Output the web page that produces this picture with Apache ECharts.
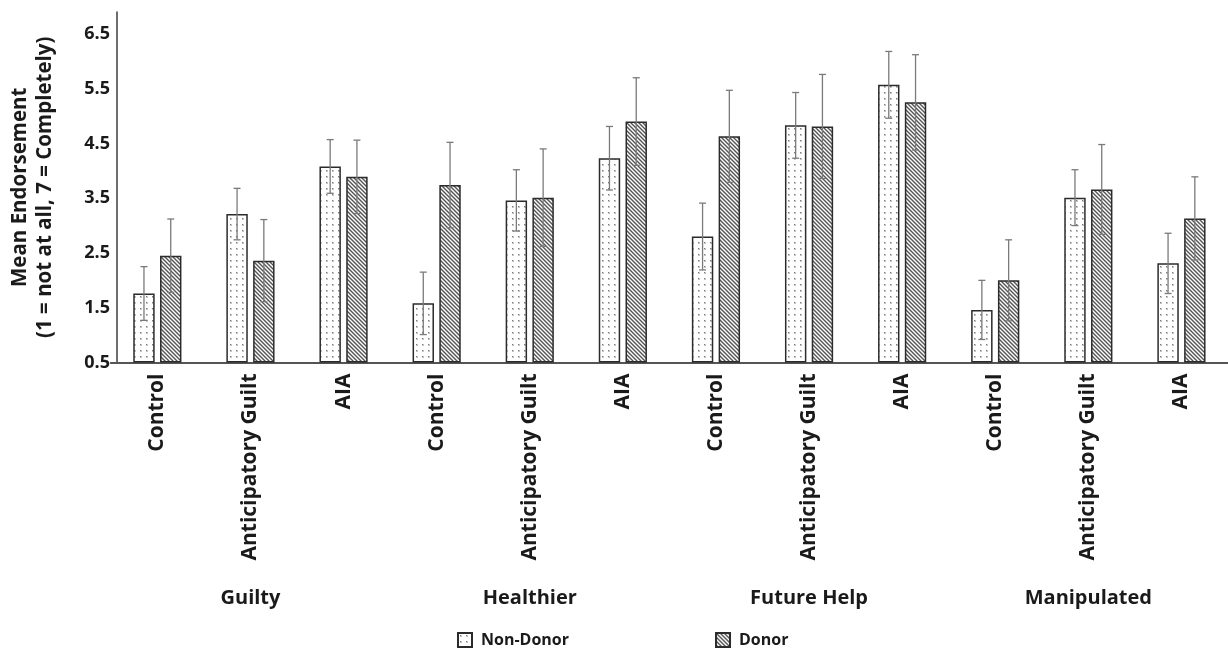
<!DOCTYPE html>
<html>
<head>
<meta charset="utf-8">
<script src="https://cdn.jsdelivr.net/npm/echarts@6/dist/echarts.min.js"></script>
<style>
  html, body { margin: 0; padding: 0; background: #fff; }
  #chart { width: 1228px; height: 648px; }
</style>
</head>
<body>
<div id="chart"></div>
<script>
// Conditions within each judgement, and the four judgements they are grouped under
const categories = ['Control', 'Anticipatory Guilt', 'AIA',
                    'Control', 'Anticipatory Guilt', 'AIA',
                    'Control', 'Anticipatory Guilt', 'AIA',
                    'Control', 'Anticipatory Guilt', 'AIA'];
const groups = ['Guilty', 'Healthier', 'Future Help', 'Manipulated'];

// Mean endorsement and error-bar half widths
const nonDonorMean = [1.76, 3.21, 4.08, 1.58, 3.46, 4.23, 2.80, 4.83, 5.57, 1.46, 3.51, 2.31];
const nonDonorErr  = [0.49, 0.47, 0.49, 0.57, 0.56, 0.58, 0.61, 0.60, 0.61, 0.54, 0.51, 0.55];
const donorMean    = [2.45, 2.36, 3.89, 3.74, 3.51, 4.90, 4.63, 4.81, 5.25, 2.00, 3.66, 3.13];
const donorErr     = [0.67, 0.75, 0.67, 0.78, 0.89, 0.80, 0.84, 0.95, 0.87, 0.74, 0.82, 0.76];

// Y axis tick labels shown at the half points
const yTickLabels = ['0.5', '1.5', '2.5', '3.5', '4.5', '5.5', '6.5'];

const FONT = 'Open Sans';
const TEXT = '#1a1a1a';
const BAR_WIDTH = 0.23;   // fraction of a category band
const BAR_GAP = 0.25;     // fraction of a bar width

// Fill patterns: fine dots for non-donors, downward diagonal hatch for donors
function dotPattern() {
  const c = document.createElement('canvas');
  c.width = 6; c.height = 6;
  const g = c.getContext('2d');
  g.fillStyle = '#ffffff'; g.fillRect(0, 0, 6, 6);
  g.fillStyle = '#c4c4c4'; g.fillRect(2, 2, 2, 2);
  g.fillStyle = '#7c7c7c'; g.fillRect(2, 2, 1, 1);
  return c;
}
function hatchPattern() {
  const s = 4;
  const c = document.createElement('canvas');
  c.width = s; c.height = s;
  const g = c.getContext('2d');
  g.fillStyle = '#ffffff'; g.fillRect(0, 0, s, s);
  g.strokeStyle = '#555555'; g.lineWidth = 1.4;
  for (const k of [-1, 0, 1]) {
    g.beginPath();
    g.moveTo(-s, -s + k * s);
    g.lineTo(2 * s, 2 * s + k * s);
    g.stroke();
  }
  return c;
}

function errorData(mean, err) {
  return mean.map((m, i) => [i, m - err[i], m + err[i]]);
}

// Error bar with caps, shifted onto its bar within the category band
function errorBarRenderer(side) {
  return function (params, api) {
    const idx = api.value(0);
    const band = api.size([1, 0])[0];
    const shift = side * band * BAR_WIDTH * (1 + BAR_GAP) / 2;
    const hi = api.coord([idx, api.value(2)]);
    const lo = api.coord([idx, api.value(1)]);
    const x = hi[0] + shift;
    const cap = 3.5;
    const style = { stroke: '#7a7a7a', lineWidth: 1.3 };
    return {
      type: 'group',
      children: [
        { type: 'line', shape: { x1: x, y1: hi[1], x2: x, y2: lo[1] }, style },
        { type: 'line', shape: { x1: x - cap, y1: hi[1], x2: x + cap, y2: hi[1] }, style },
        { type: 'line', shape: { x1: x - cap, y1: lo[1], x2: x + cap, y2: lo[1] }, style }
      ]
    };
  };
}

const chart = echarts.init(document.getElementById('chart'), null, { renderer: 'canvas' });

const barBorder = { borderColor: '#2b2b2b', borderWidth: 1.5 };

chart.setOption({
  animation: false,
  backgroundColor: '#ffffff',
  textStyle: { fontFamily: FONT },
  grid: { left: 110.5, right: -21.3, top: 12, bottom: 285.5, containLabel: false },
  legend: {
    data: ['Non-Donor', 'Donor'],
    left: 452, top: 627,
    itemWidth: 14, itemHeight: 14, itemGap: 146,
    icon: 'rect',
    textStyle: { fontFamily: FONT, fontWeight: 'bold', fontSize: 16, color: TEXT, padding: [0, 0, 0, 4] }
  },
  xAxis: [
    {
      type: 'category',
      data: categories,
      position: 'bottom',
      axisLine: { show: true, lineStyle: { color: '#555555', width: 2 } },
      axisTick: { show: false },
      axisLabel: {
        interval: 0, rotate: 90, margin: 11,
        fontFamily: FONT, fontWeight: 'bold', fontSize: 21, color: TEXT
      },
      splitLine: { show: false }
    },
    {
      type: 'category',
      data: groups,
      position: 'bottom',
      axisLine: { show: false },
      axisTick: { show: false },
      axisLabel: {
        interval: 0, margin: 226,
        fontFamily: FONT, fontWeight: 'bold', fontSize: 20, color: TEXT
      },
      splitLine: { show: false }
    }
  ],
  yAxis: {
    type: 'value',
    min: 0.5, max: 6.9, interval: 0.5,
    startValue: 0.5,
    offset: -6.2,
    axisLine: { show: true, lineStyle: { color: '#3c3c3c', width: 1.5 } },
    axisTick: { show: false },
    splitLine: { show: false },
    axisLabel: {
      margin: 7,
      fontFamily: FONT, fontWeight: 'bold', fontSize: 18, color: TEXT,
      formatter: v => {
        const s = v.toFixed(1);
        return yTickLabels.includes(s) ? s : '';
      }
    },
    name: 'Mean Endorsement\n(1 = not at all, 7 = Completely)',
    nameLocation: 'middle',
    nameGap: 59,
    nameTextStyle: { fontFamily: FONT, fontWeight: 'bold', fontSize: 20.5, color: TEXT, lineHeight: 25 }
  },
  series: [
    {
      name: 'Non-Donor', type: 'bar', xAxisIndex: 0,
      data: nonDonorMean,
      barWidth: (BAR_WIDTH * 100) + '%', barGap: (BAR_GAP * 100) + '%',
      clip: true,
      itemStyle: Object.assign({ color: { image: dotPattern(), repeat: 'repeat' } }, barBorder)
    },
    {
      name: 'Donor', type: 'bar', xAxisIndex: 0,
      data: donorMean,
      barWidth: (BAR_WIDTH * 100) + '%', barGap: (BAR_GAP * 100) + '%',
      clip: true,
      itemStyle: Object.assign({ color: { image: hatchPattern(), repeat: 'repeat' } }, barBorder)
    },
    {
      name: 'Non-Donor error', type: 'custom', xAxisIndex: 0, z: 5,
      renderItem: errorBarRenderer(-1),
      data: errorData(nonDonorMean, nonDonorErr),
      encode: { x: 0, y: [1, 2] }
    },
    {
      name: 'Donor error', type: 'custom', xAxisIndex: 0, z: 5,
      renderItem: errorBarRenderer(1),
      data: errorData(donorMean, donorErr),
      encode: { x: 0, y: [1, 2] }
    }
  ]
});
</script>
</body>
</html>
